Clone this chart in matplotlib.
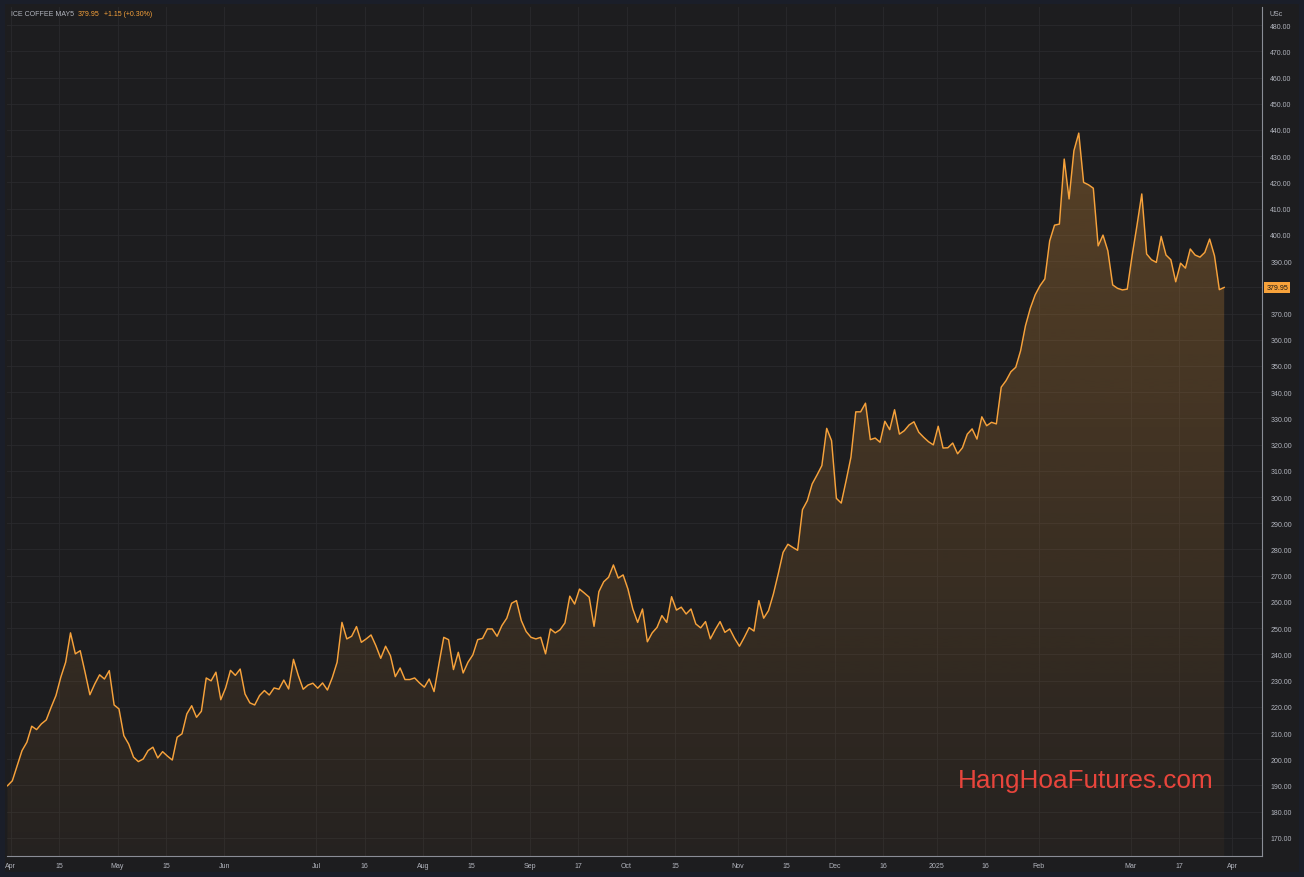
import matplotlib
matplotlib.use("Agg")
import matplotlib.pyplot as plt
import matplotlib.transforms as mtransforms
from matplotlib.colors import to_rgb
from matplotlib.patches import PathPatch
import numpy as np
import pandas as pd

# giá đóng cửa ICE Coffee MAY5 (USc/lb), mỗi phiên một giá trị, từ 01/04/2024
prices = [
    189.9, 191.8, 197.6, 203.3, 206.5, 212.6, 211.3, 213.5, 215.0, 219.8,
    224.3, 231.3, 237.0, 248.2, 240.2, 241.4, 233.2, 224.6, 228.7, 232.2,
    230.6, 233.8, 220.7, 219.2, 209.0, 205.8, 200.8, 199.1, 200.1, 203.3,
    204.6, 200.5, 202.9, 201.2, 199.7, 208.4, 209.7, 217.3, 220.4, 216.0,
    218.3, 231.0, 229.9, 233.2, 222.7, 227.2, 233.9, 232.0, 234.4, 224.9,
    221.5, 220.7, 224.3, 226.2, 224.5, 227.2, 226.7, 230.2, 226.8, 238.1,
    231.9, 226.7, 228.3, 229.0, 227.1, 229.1, 226.4, 231.1, 237.0, 252.2,
    245.9, 246.9, 250.6, 244.6, 245.9, 247.4, 243.3, 238.5, 243.1, 239.5,
    231.5, 234.8, 230.4, 230.4, 231.0, 229.1, 227.5, 230.6, 225.8, 236.3,
    246.5, 245.6, 234.2, 240.8, 232.9, 237.0, 239.8, 245.6, 246.1, 249.7,
    249.7, 246.9, 251.0, 253.8, 259.5, 260.5, 252.9, 248.7, 246.5, 245.9,
    246.5, 240.2, 249.7, 248.2, 249.4, 252.0, 262.2, 259.2, 264.9, 263.4,
    261.8, 250.7, 263.9, 267.7, 269.4, 274.1, 269.1, 270.3, 264.9, 257.3,
    252.2, 257.3, 244.8, 248.2, 250.3, 254.8, 252.2, 262.0, 256.9, 258.0,
    255.4, 257.3, 251.6, 250.1, 252.5, 245.9, 249.4, 252.5, 248.4, 249.7,
    246.1, 243.1, 246.5, 250.2, 248.9, 260.5, 253.8, 256.7, 263.0, 270.7,
    278.9, 282.0, 280.8, 279.7, 295.2, 298.6, 305.0, 308.4, 312.0, 326.2,
    321.5, 299.5, 297.7, 306.2, 315.2, 332.5, 332.5, 335.8, 321.9, 322.5,
    320.9, 328.9, 325.7, 333.3, 324.0, 325.3, 327.5, 328.7, 324.7, 322.8,
    321.1, 319.9, 327.0, 318.7, 318.8, 320.6, 316.5, 318.8, 324.0, 326.0,
    322.1, 330.6, 327.2, 328.5, 327.9, 341.9, 344.4, 347.8, 349.5, 355.8,
    365.3, 372.0, 377.1, 380.6, 383.2, 397.7, 403.7, 404.1, 428.9, 413.7,
    432.1, 438.8, 420.0, 419.1, 417.8, 395.8, 399.9, 393.9, 380.9, 379.6,
    379.0, 379.3, 392.0, 403.5, 415.6, 392.7, 390.5, 389.5, 399.4, 392.3,
    390.5, 382.1, 389.2, 387.3, 394.6, 392.3, 391.5, 393.3, 398.4, 392.0,
    379.1, 379.95,
]

# ngày nghỉ sàn ICE trong giai đoạn này
holidays = ["2024-05-27", "2024-06-19", "2024-07-04", "2024-09-02", "2024-11-28",
            "2024-12-25", "2025-01-01", "2025-01-20", "2025-02-17"]

tick_labels = ["Apr", "15", "May", "15", "Jun", "Jul", "16", "Aug", "15", "Sep", "17",
               "Oct", "15", "Nov", "15", "Dec", "16", "2025", "16", "Feb", "Mar", "17", "Apr"]
tick_dates = ["2024-04-01", "2024-04-15", "2024-05-01", "2024-05-15", "2024-06-03",
              "2024-07-01", "2024-07-16", "2024-08-01", "2024-08-15", "2024-09-03",
              "2024-09-17", "2024-10-01", "2024-10-15", "2024-11-01", "2024-11-15",
              "2024-12-02", "2024-12-16", "2025-01-02", "2025-01-16", "2025-02-03",
              "2025-03-03", "2025-03-17", "2025-04-01"]

price_ticks = list(range(170, 490, 10))
last_price = "379.95"
change_text = "+1.15 (+0.30%)"

# màu
bg = "#1d1d1f"
border = "#1a1e29"
line_color = "#f7a23b"
text_color = "#b2b5be"
grid_color = "#2a2a2d"
fs = 5.0

# trục x theo số phiên (giống TradingView, bỏ ngày nghỉ)
calendar = pd.bdate_range("2024-04-01", "2025-04-30", freq="C", holidays=holidays)
x = np.arange(len(prices))
# nhãn ngày của TradingView lệch nhẹ sang phải so với thanh
tick_pos = calendar.get_indexer(pd.to_datetime(tick_dates)) + 0.7

W, H = 1304, 878
fig = plt.figure(figsize=(W / 100, H / 100), dpi=100)
fig.patch.set_facecolor(border)
fig.patches.append(plt.Rectangle((5 / W, 5 / H), 1294 / W, 868 / H, transform=fig.transFigure,
                                 facecolor=bg, edgecolor="none", zorder=-5))

ax = fig.add_axes([7 / W, 21 / H, 1255 / W, 849 / H])
ax.set_facecolor(bg)

ymin, ymax = 163.1, 486.9
xmin, xmax = -0.1, 258.8

# vùng tô gradient dưới đường giá
rgba = np.zeros((256, 1, 4))
rgba[..., :3] = to_rgb(line_color)
rgba[:, 0, 3] = np.linspace(0.04, 0.27, 256)
im = ax.imshow(rgba, extent=[xmin, xmax, ymin, max(prices)], origin="lower",
               aspect="auto", zorder=1, interpolation="bilinear")
poly = ax.fill_between(x, prices, ymin, color="none", lw=0)
clip = PathPatch(poly.get_paths()[0], transform=ax.transData, facecolor="none", edgecolor="none")
ax.add_patch(clip)
im.set_clip_path(clip)

ax.plot(x, prices, color=line_color, lw=1.05, zorder=3, solid_joinstyle="round")

ax.set_xlim(xmin, xmax)
ax.set_ylim(ymin, ymax)

ax.set_xticks(tick_pos)
ax.set_xticklabels(tick_labels)
ax.set_yticks(price_ticks)
# nhãn 380.00 bị ô giá cuối che mất trong ảnh gốc
ax.set_yticklabels(["" if v == 380 else f"{v:.2f}" for v in price_ticks])
ax.yaxis.tick_right()
ax.tick_params(axis="both", length=0, colors=text_color, labelsize=fs)
ax.tick_params(axis="x", pad=4)
ax.tick_params(axis="y", pad=6)
for lab in ax.get_xticklabels() + ax.get_yticklabels():
    lab.set_family("Liberation Sans")
for lab in ax.get_yticklabels():
    lab.set_horizontalalignment("left")

ax.grid(True, color=grid_color, lw=0.6)
ax.set_axisbelow(True)
for side in ["top", "left"]:
    ax.spines[side].set_visible(False)
ax.spines["bottom"].set_color("#8a8d96")
ax.spines["right"].set_color("#8a8d96")
ax.spines["bottom"].set_linewidth(0.8)
ax.spines["right"].set_linewidth(0.8)

# nhãn giá cuối
trans = mtransforms.blended_transform_factory(ax.transAxes, ax.transData)
ax.text(1.0035, float(last_price), last_price, transform=trans, ha="left", va="center",
        fontsize=fs, family="Liberation Sans", color="#151515", zorder=10, clip_on=False,
        bbox=dict(boxstyle="square,pad=0.3", fc=line_color, ec="none"))

# đơn vị
fig.text(1270 / W, 1 - 14 / H, "USc", ha="left", va="center", fontsize=fs,
         family="Liberation Sans", color=text_color)

# tiêu đề góc trái
t1 = fig.text(11 / W, 1 - 15 / H, "ICE COFFEE MAY5", ha="left", va="center", fontsize=fs,
              family="Liberation Sans", color=text_color)
t2 = ax.annotate(last_price, xy=(1, 0.5), xycoords=t1, xytext=(3, 0), textcoords="offset points",
                 ha="left", va="center", fontsize=fs, family="Liberation Sans",
                 color=line_color, annotation_clip=False)
ax.annotate(change_text, xy=(1, 0.5), xycoords=t2, xytext=(3, 0), textcoords="offset points",
            ha="left", va="center", fontsize=fs, family="Liberation Sans",
            color=line_color, annotation_clip=False)

# watermark
ax.text(0.8593, 0.089, "HangHoaFutures.com", transform=ax.transAxes, ha="center", va="center",
        fontsize=18.8, family="Liberation Sans", color="#e8453c", zorder=5)

fig.savefig("out.png", dpi=100, facecolor=fig.get_facecolor())
